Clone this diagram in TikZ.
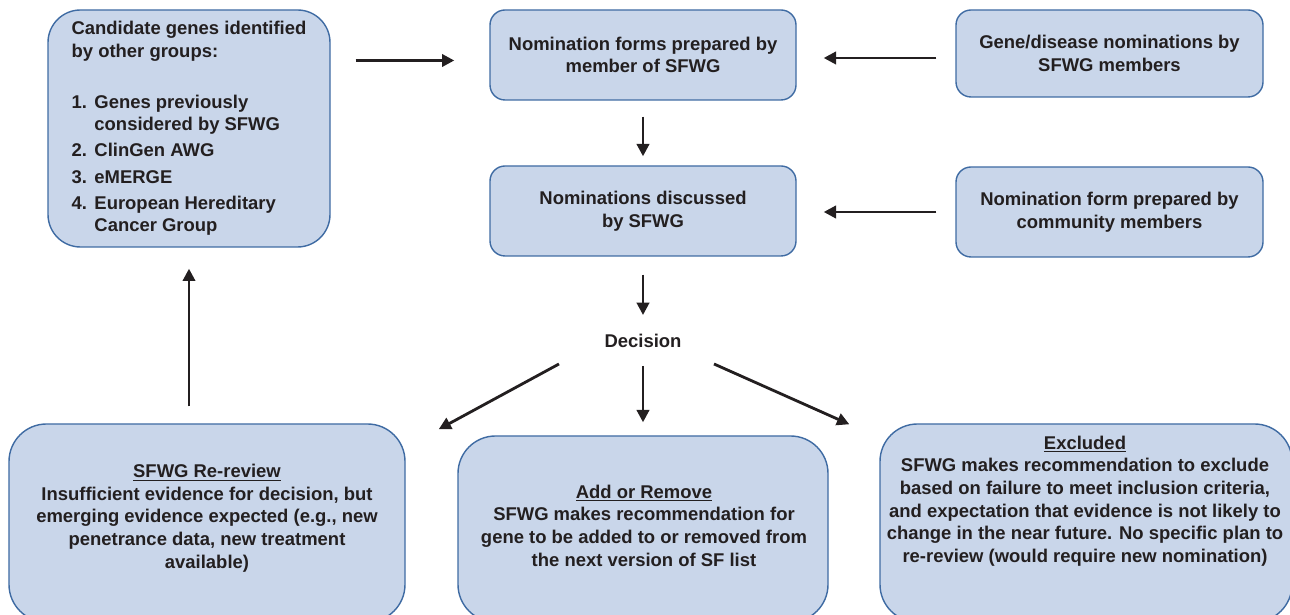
\documentclass[tikz,border=0pt]{standalone}
\usepackage{fontspec}
\setmainfont{Liberation Sans}
\usetikzlibrary{arrows.meta}
\definecolor{boxfill}{RGB}{201,214,234}
\definecolor{boxline}{RGB}{63,107,163}
\definecolor{inktext}{RGB}{35,31,32}
\newcommand{\geneno}[1]{\makebox[13pt][l]{#1}}
\begin{document}
\begin{tikzpicture}[font=\fontsize{10.5}{12.9}\selectfont\bfseries, text=inktext,
	box/.style={draw=boxline, fill=boxfill, line width=.8pt, rounded corners=.3cm, align=center},
	bigbox/.style={box, rounded corners=.75cm},
	boxtext/.style={align=center},
	flow/.style={draw=inktext, line width=1.6pt, -{Triangle[length=7pt,width=7pt]}}]
	\useasboundingbox (0,0) rectangle (25.8,12.3);
	\clip (0,0) rectangle (25.8,12.3);
	% top rows
	\node[box, rounded corners=.65cm, align=left, minimum width=5.64cm, minimum height=4.74cm] (candidate) at (3.78,9.73) {Candidate genes identified\\by other groups:\\[16pt]
		\geneno{1.}Genes previously\\\hspace*{13pt}considered by SFWG\\[2pt]
		\geneno{2.}ClinGen AWG\\[2pt]
		\geneno{3.}eMERGE\\[2pt]
		\geneno{4.}European Hereditary\\\hspace*{13pt}Cancer Group};
	\node[box, minimum width=6.12cm, minimum height=1.8cm] (nomForms) at (12.86,11.2) {Nomination forms prepared by\\member of SFWG};
	\node[box, minimum width=6.12cm, minimum height=1.8cm] (discussed) at (12.86,8.08) {Nominations discussed\\by SFWG};
	\node[box, minimum width=6.14cm, minimum height=1.74cm] (memberNom) at (22.19,11.23) {Gene/disease nominations by\\SFWG members};
	\node[box, minimum width=6.14cm, minimum height=1.8cm] (communityNom) at (22.19,8.06) {Nomination form prepared by\\community members};
	\node (decision) at (12.86,5.48) {Decision};
	% outcomes
	\node[bigbox, minimum width=7.92cm, minimum height=3.96cm] (review) at (4.14,1.84) {};
	\node[boxtext] (reviewText) at (4.14,1.94) {\underline{SFWG Re-review}\\Insufficient evidence for decision, but\\emerging evidence expected (e.g., new\\penetrance data, new treatment\\available)};
	\node[bigbox, minimum width=7.4cm, minimum height=3.72cm] (addRemove) at (12.86,1.72) {};
	\node[boxtext] (addRemoveText) at (12.88,1.79) {\underline{Add or Remove}\\SFWG makes recommendation for\\gene to be added to or removed from\\the next version of SF list};
	\node[bigbox, minimum width=8.24cm, minimum height=3.96cm] (excluded) at (21.72,1.84) {};
	\node[boxtext] (excludedText) at (21.7,2.28) {\underline{Excluded}\\SFWG makes recommendation to exclude\\based on failure to meet inclusion criteria,\\and expectation that evidence is not likely to\\change in the near future. No specific plan to\\re-review (would require new nomination)};
	% arrows
	\draw[flow, shorten <=.5cm, shorten >=.7cm] ([yshift=-.11cm]nomForms.west -| candidate.east) -- ([yshift=-.11cm]nomForms.west);
	\draw[flow, shorten <=.38cm, shorten >=.54cm] ([yshift=-.06cm]nomForms.east -| memberNom.west) -- ([yshift=-.06cm]nomForms.east);
	\draw[flow, shorten <=.38cm, shorten >=.54cm] (communityNom.west) -- (communityNom.west -| discussed.east);
	\draw[flow, shorten <=.32cm, shorten >=.18cm] (nomForms.south) -- (discussed.north);
	\draw[flow, shorten <=.36cm, shorten >=.26cm] (discussed.south) -- (decision.north);
	\draw[flow, shorten <=.24cm, shorten >=.26cm] (decision.south) -- (addRemove.north);
	\draw[flow] ([shift={(-1.68,-.2)}]decision.south) -- ([shift={(.66,-.12)}]review.north east);
	\draw[flow] ([shift={(1.42,-.2)}]decision.south) -- ([shift={(-.6,-.02)}]excluded.north west);
	\draw[flow, shorten <=.34cm, shorten >=.42cm] (candidate.south |- review.north) -- (candidate.south);
\end{tikzpicture}
\end{document}
